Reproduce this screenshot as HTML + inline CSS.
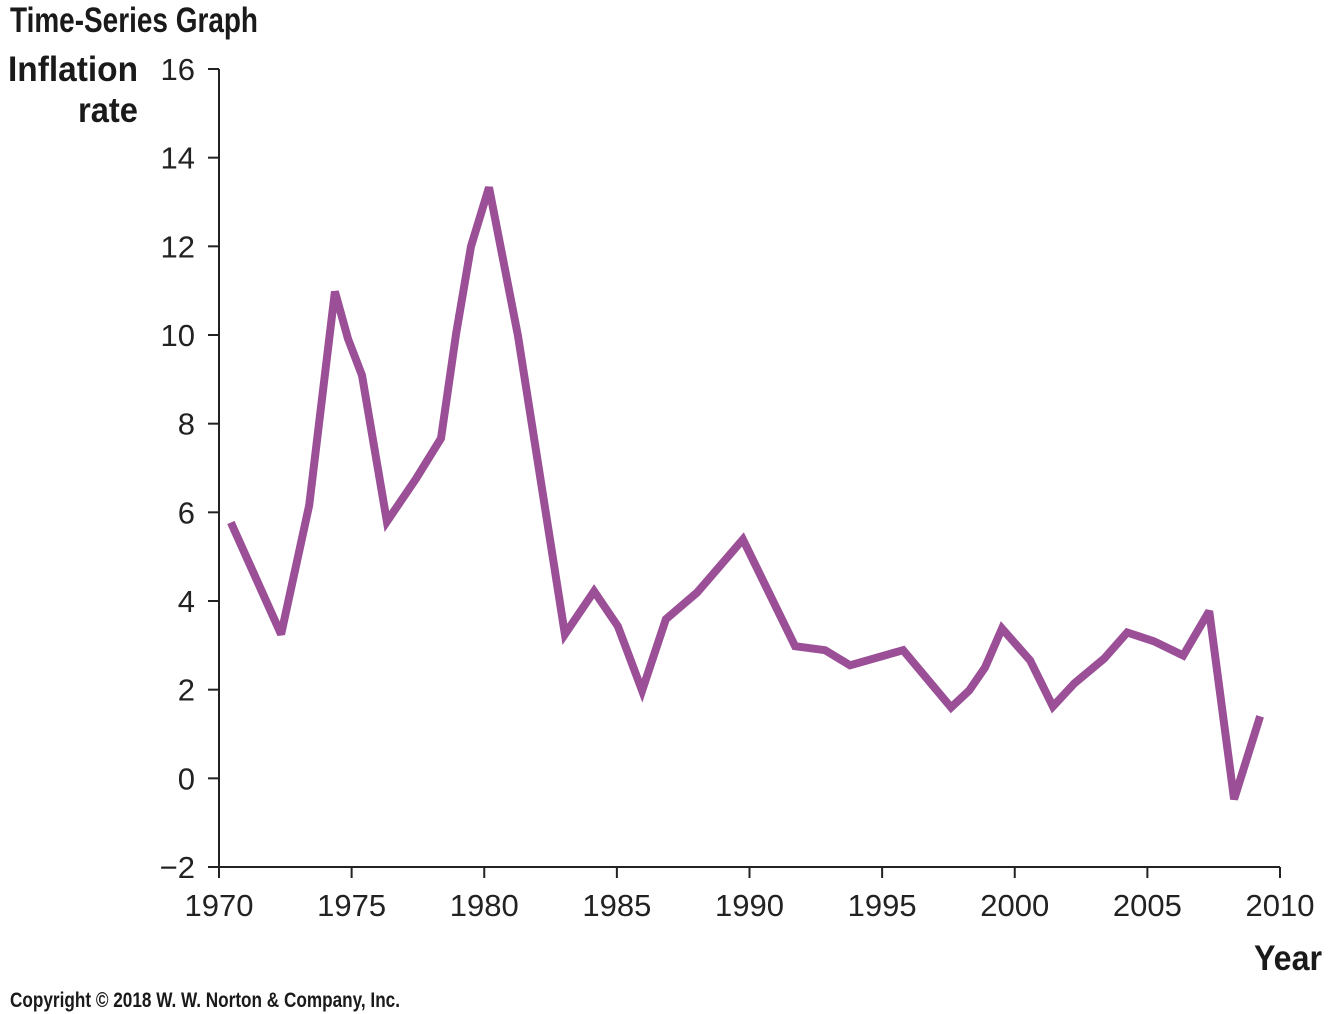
<!DOCTYPE html>
<html><head><meta charset="utf-8"><style>
html,body{margin:0;padding:0;background:#fff;}
svg{display:block;}
.cond{font-family:"Liberation Sans Narrow","Liberation Sans",sans-serif;font-weight:bold;fill:#1a1a1a;}
.tick{font-family:"Liberation Sans",sans-serif;font-size:31px;fill:#222;}
</style></head><body>
<svg id="chart" width="1336" height="1014" viewBox="0 0 1336 1014">
<text class="cond" x="10" y="32" font-size="35" textLength="248" lengthAdjust="spacingAndGlyphs">Time-Series Graph</text>
<text class="cond" x="8" y="81" font-size="35" textLength="130" lengthAdjust="spacingAndGlyphs">Inflation</text>
<text class="cond" x="78" y="122" font-size="35" textLength="60" lengthAdjust="spacingAndGlyphs">rate</text>
<text class="cond" x="1254" y="970" font-size="35" textLength="68" lengthAdjust="spacingAndGlyphs">Year</text>
<text class="cond" x="10" y="1007" font-size="21" textLength="390" lengthAdjust="spacingAndGlyphs">Copyright © 2018 W. W. Norton &amp; Company, Inc.</text>
<g id="axes"></g>
<g id="series"></g>
</svg>
<script>
const years=[1970.45,1972.34,1973.4,1974.37,1974.86,1975.39,1976.33,1977.43,1978.37,1978.94,1979.5,1980.18,1981.27,1983.04,1984.14,1985.04,1985.95,1986.85,1988.02,1989.75,1991.72,1992.85,1993.79,1995.79,1997.6,1998.28,1998.88,1999.52,2000.58,2001.44,2002.24,2003.37,2004.24,2005.25,2006.35,2007.33,2008.27,2009.25];
const values=[5.77,3.25,6.16,10.98,9.92,9.09,5.79,6.76,7.67,10.03,12.0,13.33,9.99,3.25,4.22,3.43,1.98,3.59,4.19,5.39,2.98,2.89,2.55,2.89,1.6,1.98,2.5,3.38,2.66,1.62,2.14,2.7,3.29,3.09,2.77,3.77,-0.47,1.4];
const xTicks=[1970,1975,1980,1985,1990,1995,2000,2005,2010];
const yTicks=[-2,0,2,4,6,8,10,12,14,16];
const yTickLabels=["\u22122","0","2","4","6","8","10","12","14","16"];

const X0=219,X1=1280,Y0=867,Y1=69;
const xS=v=>X0+(v-1970)/(2010-1970)*(X1-X0);
const yS=v=>Y0-(v-(-2))/(16-(-2))*(Y0-Y1);
const NS="http://www.w3.org/2000/svg";
const axes=document.getElementById('axes'),series=document.getElementById('series');
function mk(tag,attrs,parent){const e=document.createElementNS(NS,tag);for(const k in attrs)e.setAttribute(k,attrs[k]);parent.appendChild(e);return e;}

const yAxis=mk('line',{x1:X0,y1:Y1,x2:X0,y2:Y0,stroke:'#222','stroke-width':2},axes);


const xAxis=mk('line',{x1:X0,y1:Y0,x2:X1,y2:Y0,stroke:'#222','stroke-width':2},axes);



yTicks.forEach((v,i)=>{
  const y=yS(v);
  const t=mk('line',{x1:X0-11,y1:y,x2:X0,y2:y,stroke:'#222','stroke-width':2},axes);
  
  
  const l=mk('text',{x:195,y:y+11,'text-anchor':'end',class:'tick'},axes);
  l.textContent=yTickLabels[i];
  
  
});
xTicks.forEach(v=>{
  const x=xS(v);
  const t=mk('line',{x1:x,y1:Y0,x2:x,y2:Y0+11,stroke:'#222','stroke-width':2},axes);
  
  
  const l=mk('text',{x:x,y:916,'text-anchor':'middle',class:'tick'},axes);
  l.textContent=String(v);
  
  
});

const pts=years.map((yr,i)=>xS(yr).toFixed(1)+','+yS(values[i]).toFixed(1)).join(' ');
const line=mk('polyline',{points:pts,fill:'none',stroke:'#9b4f96','stroke-width':8,'stroke-linejoin':'miter','stroke-miterlimit':3},series);


</script>
</body></html>
